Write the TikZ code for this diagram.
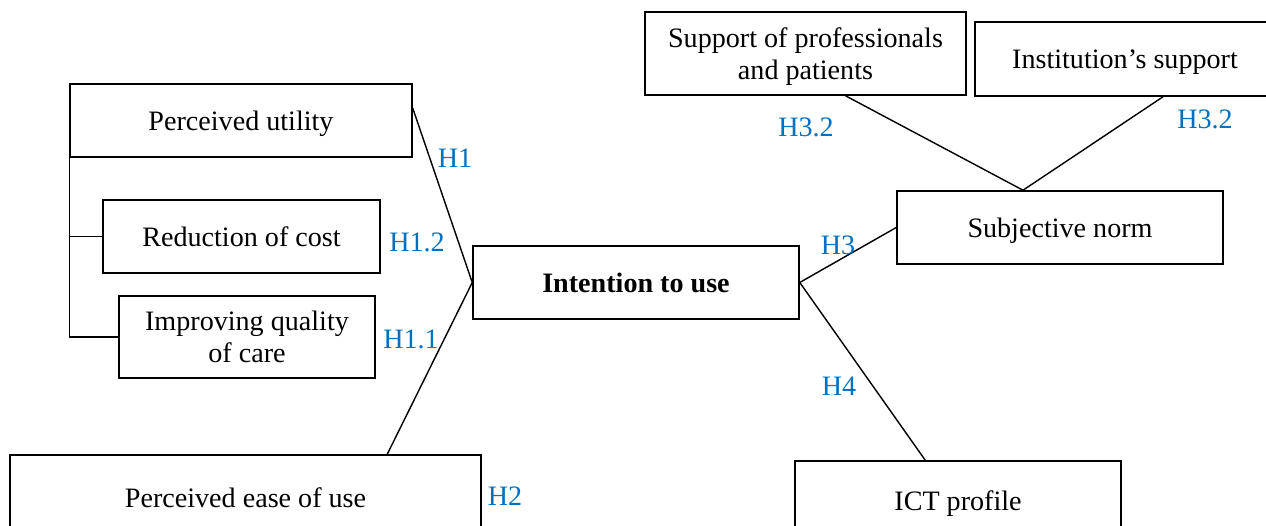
\documentclass[tikz,border=0pt]{standalone}
\usepackage{fontspec}
\setmainfont{Liberation Serif}
\usetikzlibrary{calc}
\definecolor{hypblue}{RGB}{0,112,192}

\begin{document}
\begin{tikzpicture}[x=0.02cm,y=-0.02cm,
  box/.style={draw, line width=0.9pt, inner sep=0pt, align=center, text depth=0pt,
    font=\fontsize{16}{18.4}\selectfont},
  hyp/.style={text=hypblue, inner sep=0pt, font=\fontsize{16}{18.4}\selectfont},
  link/.style={line width=0.8pt}]
\useasboundingbox (0,0) rectangle (1266,526);
% Left side constructs
\node[box, minimum width=6.84cm, minimum height=1.46cm] (util) at (241,120.5) {Perceived utility};
\node[box, minimum width=5.54cm, minimum height=1.46cm] (red) at (241.5,236.5) {Reduction of cost};
\node[box, minimum width=5.12cm, minimum height=1.64cm] (impr) at (247,337) {Improving quality\\of care};
\node[box, minimum width=9.42cm, minimum height=1.7cm] (ease) at (245.5,497.5) {Perceived ease of use};
% Centre
\node[box, minimum width=6.52cm, minimum height=1.46cm] (intent) at (636,282.5) {\textbf{Intention to use}};
% Right side constructs
\node[box, minimum width=6.42cm, minimum height=1.66cm] (supp) at (805.5,53.5) {Support of professionals\\and patients};
\node[box, minimum width=6cm, minimum height=1.48cm] (inst) at (1125,59) {Institution's support};
\node[box, minimum width=6.52cm, minimum height=1.46cm] (subj) at (1060,227.5) {Subjective norm};
\node[box, minimum width=6.52cm, minimum height=1.6cm] (ict) at (958,501) {ICT profile};
% Connectors
\draw[link] ([yshift=7pt]util.east) -- (intent.west);
\draw[link] ($(ease.north east)!0.2!(ease.north west)$) -- (intent.west);
\draw[link] (intent.east) -- (subj.west);
\draw[link] (intent.east) -- ($(ict.north west)!0.4!(ict.north east)$);
\coordinate (apex) at ($(subj.north)+(-37,0)$);
\draw[link] ($(supp.south)+(40,0)$) -- (apex);
\draw[link] ($(inst.south)+(38,0)$) -- (apex);
% Bracket under perceived utility
\draw[link] (util.south west) |- (impr.west);
\draw[link] (red.west) -- (red.west -| util.south west);
% Hypothesis labels
\node[hyp] (h1) at (455,158) {H1};
\node[hyp] (h12) at (417,242) {H1.2};
\node[hyp] (h11) at (411,339) {H1.1};
\node[hyp] (h2) at (505,496) {H2};
\node[hyp] (h3) at (838,245) {H3};
\node[hyp] (h4) at (839,386) {H4};
\node[hyp] (h32a) at (806,127) {H3.2};
\node[hyp] (h32b) at (1205,119) {H3.2};
\end{tikzpicture}
\end{document}
